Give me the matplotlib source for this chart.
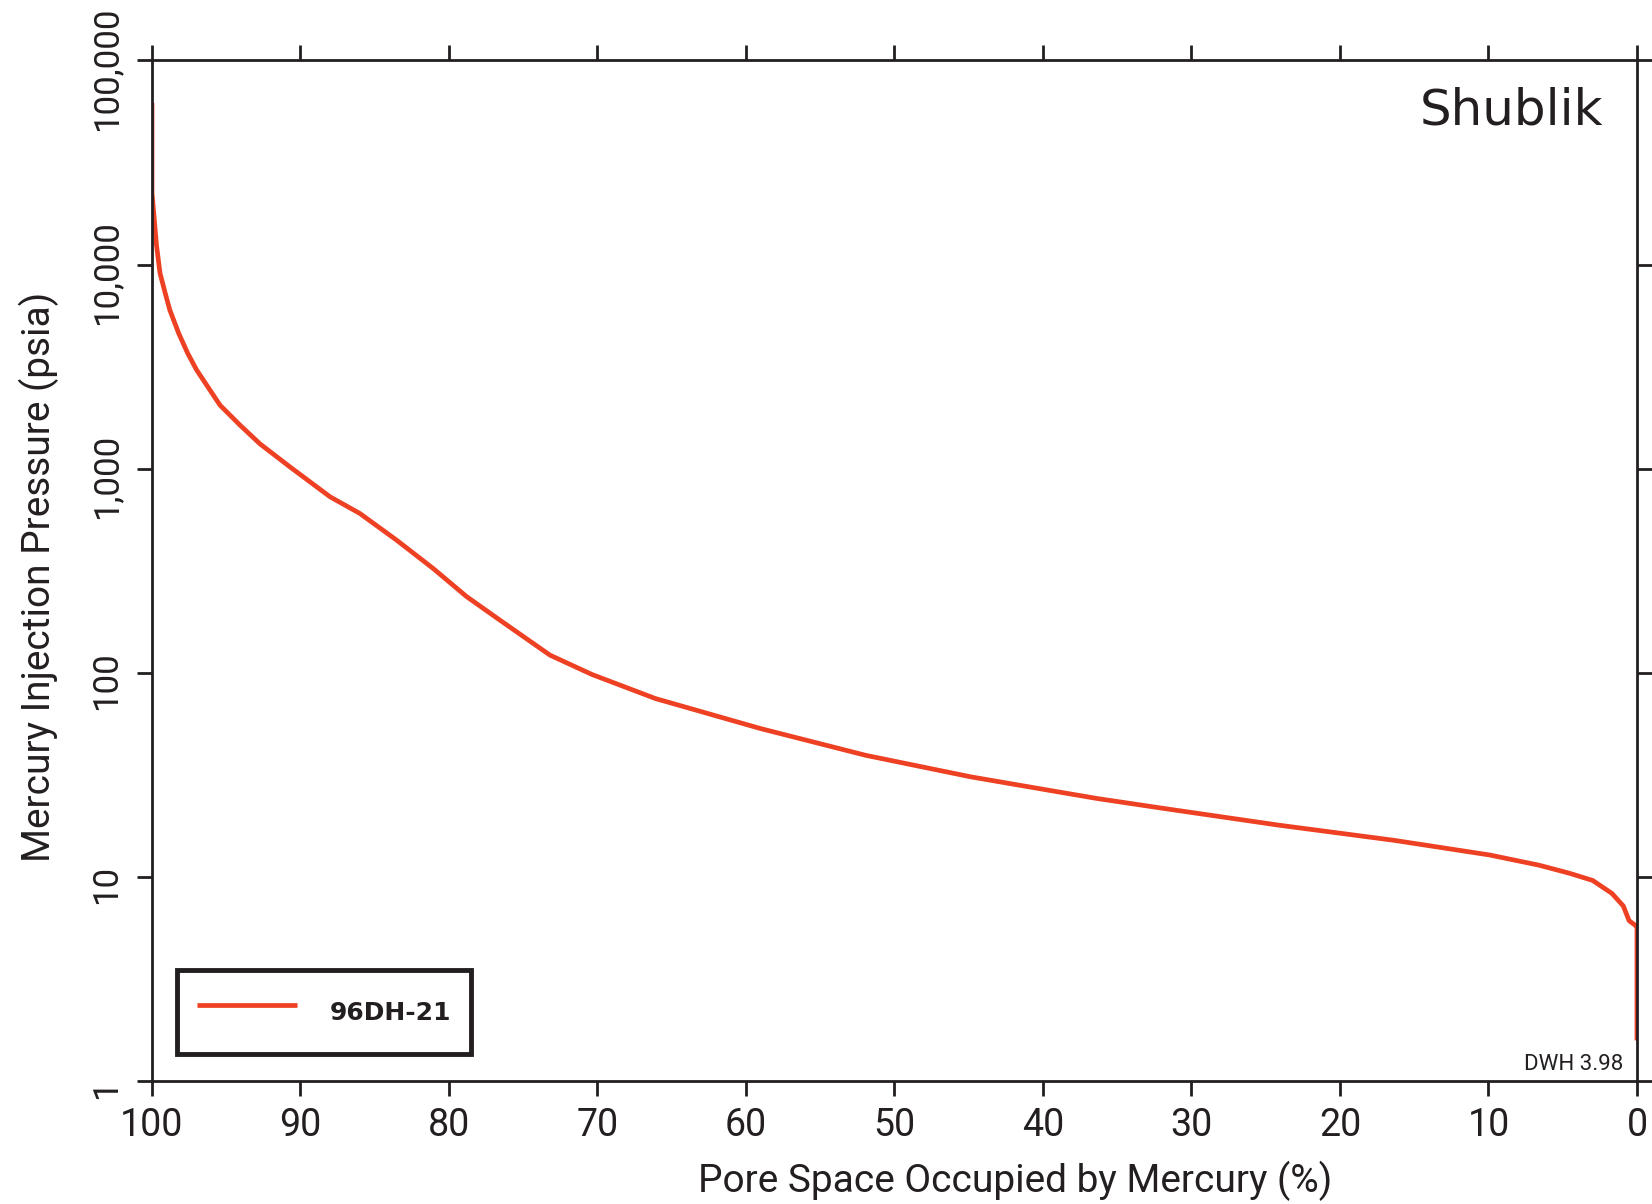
import matplotlib
matplotlib.use('Agg')
import matplotlib.pyplot as plt
from matplotlib.transforms import ScaledTranslation

# capillary pressure curve (pore space %, pressure psia)
saturation = [100.0, 100.0, 99.9, 99.7, 99.46, 99.1, 98.8, 98.2, 97.6, 97.0,
              96.4, 95.42, 94.07, 92.73, 90.71, 88.01, 86.0, 83.52, 81.06,
              78.81, 76.57, 73.2, 70.36, 66.11, 59.03, 51.94, 44.86, 39.53, 36.35,
              31.8, 24.08, 16.36, 9.93, 6.58, 4.52, 2.98, 1.69, 0.92, 0.53,
              0.1, 0.0, 0.0]
pressure = [62000, 22400, 18500, 12500, 9080, 7200, 5990, 4600, 3680, 3050,
            2620, 2047, 1633, 1323, 1020, 728, 603, 446, 324,
            236, 181, 122, 98, 74.8, 53.3, 39.4, 30.9, 26.5, 24.2,
            21.6, 17.9, 15.1, 12.8, 11.4, 10.4, 9.6, 8.3, 7.2, 6.1,
            5.78, 5.78, 1.58]

x_ticks = [100, 90, 80, 70, 60, 50, 40, 30, 20, 10, 0]
y_ticks = [1, 10, 100, 1000, 10000, 100000]
y_labels = ['1', '10', '100', '1,000', '10,000', '100,000']

red = '#EE4124'
ink = '#231F20'
tick_font = ['Roboto', 'DejaVu Sans']

fig = plt.figure(figsize=(16.52, 12.04), dpi=100)
ax = fig.add_axes([0.0920, 0.1022, 0.8989, 0.8476])

ax.plot(saturation, pressure, color=red, lw=3.4, label='96DH-21',
        solid_capstyle='butt', solid_joinstyle='round')

ax.set_yscale('log')
ax.set_xlim(100, 0)
ax.set_ylim(1, 100000)
ax.set_xticks(x_ticks)
ax.set_xticklabels([str(t) for t in x_ticks], family=tick_font, fontsize=27, color=ink)
ax.set_yticks(y_ticks)
ax.set_yticklabels(y_labels, family=tick_font, fontsize=25,
                   rotation=90, va='center', color=ink)
ax.minorticks_off()
ax.tick_params(direction='out', length=11, width=2, color=ink,
               top=True, right=True, labeltop=False, labelright=False)
ax.tick_params(axis='x', pad=8)
ax.tick_params(axis='y', pad=10)
# the rotated y labels sit a little below their ticks in the original
shift = ScaledTranslation(0, -0.08, fig.dpi_scale_trans)
for lbl in ax.get_yticklabels():
    lbl.set_transform(lbl.get_transform() + shift)
for s in ax.spines.values():
    s.set_linewidth(2)
    s.set_color(ink)

ax.set_xlabel('Pore Space Occupied by Mercury (%)', family=tick_font, fontsize=28,
              color=ink, labelpad=12, x=0.581)
ax.set_ylabel('Mercury Injection Pressure (psia)', family=tick_font, fontsize=28,
              color=ink, labelpad=22, y=0.494)

ax.text(0.977, 0.974, 'Shublik', transform=ax.transAxes, ha='right', va='top',
        fontsize=36, color=ink, family=['DejaVu Sans'])
ax.text(0.9906, 0.011, 'DWH 3.98', transform=ax.transAxes, ha='right', va='baseline',
        fontsize=16, color=ink, family=tick_font)

leg = ax.legend(loc='lower left', bbox_to_anchor=(0.0168, 0.0265), borderaxespad=0,
                frameon=True, fancybox=False, framealpha=1, handlelength=4.0,
                handleheight=2.3, handletextpad=1.3, borderpad=0.8,
                prop={'family': 'DejaVu Sans', 'weight': 'bold', 'size': 18})
leg.get_frame().set_edgecolor(ink)
leg.get_frame().set_linewidth(3.5)
for t in leg.get_texts():
    t.set_color(ink)

fig.savefig('out.png', dpi=100)
